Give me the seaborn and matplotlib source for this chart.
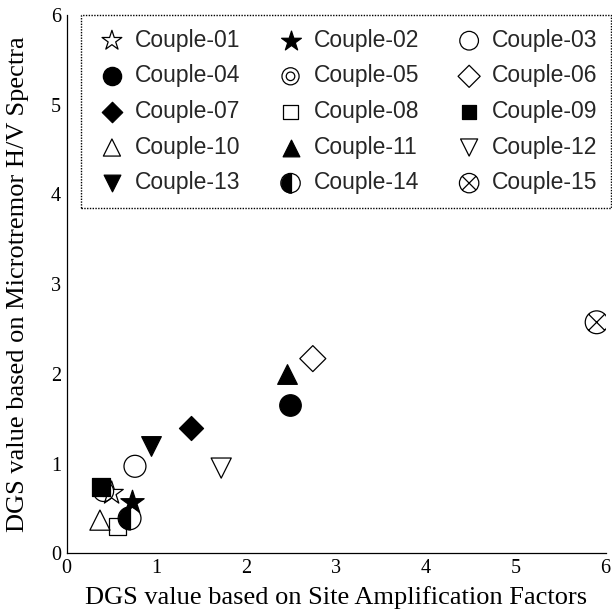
import matplotlib
matplotlib.use("Agg")
import matplotlib.pyplot as plt
import seaborn as sns
import numpy as np
from matplotlib.path import Path

# ---- data ----
couples = [f"Couple-{i:02d}" for i in range(1, 16)]
x_saf = [0.50, 0.73, 0.76, 2.49, 0.41, 2.74, 1.38, 0.57, 0.38, 0.37, 2.45, 1.72, 0.94, 0.70, 5.90]
y_hv = [0.67, 0.575, 0.97, 1.65, 0.69, 2.17, 1.40, 0.30, 0.74, 0.37, 2.00, 0.95, 1.20, 0.39, 2.575]
x_ticks = [0, 1, 2, 3, 4, 5, 6]
y_ticks = [0, 1, 2, 3, 4, 5, 6]
x_label = "DGS value based on Site Amplification Factors"
y_label = "DGS value based on Microtremor H/V Spectra"

# ---- custom marker paths ----
circ = Path.unit_circle()
inner = Path(circ.vertices * 0.5, circ.codes)
double_circle = Path.make_compound_path(circ, inner)
xv = 0.7071
circle_x = Path(np.vstack([circ.vertices, [[-xv, -xv], [xv, xv], [-xv, xv], [xv, -xv]]]),
                list(circ.codes) + [Path.MOVETO, Path.LINETO, Path.MOVETO, Path.LINETO])
arc = Path.arc(90, 270)
half_left = Path(np.vstack([arc.vertices, [[0, 1]]]), list(arc.codes) + [Path.CLOSEPOLY])

# style per couple: list of layers (marker, size, face)
styles = [
    [("*", 310, "none")],
    [("*", 310, "black")],
    [("o", 250, "none")],
    [("o", 240, "black")],
    [(double_circle, 210, "none")],
    [("D", 175, "none")],
    [("D", 150, "black")],
    [("s", 150, "none")],
    [("s", 150, "black")],
    [("^", 210, "none")],
    [("^", 200, "black")],
    [("v", 210, "none")],
    [("v", 200, "black")],
    [("o", 270, "none"), (half_left, 270, "black")],
    [(circle_x, 270, "none")],
]

sns.set_style("white")
plt.rcParams["font.family"] = ["Liberation Serif", "DejaVu Serif"]

fig = plt.figure(figsize=(6.12, 6.11), dpi=100)
ax = fig.add_axes([0.109, 0.0944, 0.8806, 0.8811])

handles = []
for i, name in enumerate(couples):
    layers = []
    for marker, s, face in styles[i]:
        sns.scatterplot(x=[x_saf[i]], y=[y_hv[i]], marker=marker, s=s, color="black",
                        facecolor=face, edgecolor="black", linewidth=0.9, ax=ax,
                        legend=False, zorder=3 + i)
        layers.append(ax.collections[-1])
    handles.append(tuple(layers) if len(layers) > 1 else layers[0])

ax.set_xlim(0, 6)
ax.set_ylim(0, 6)
ax.set_xticks(x_ticks)
ax.set_yticks(y_ticks)
ax.set_xticklabels([str(t) for t in x_ticks])
ax.set_yticklabels([str(t) for t in y_ticks])
ax.tick_params(direction="in", length=4, width=0.8, colors="black", labelsize=14.5)
ax.tick_params(axis="x", pad=4)
ax.tick_params(axis="y", pad=4)
for side in ["top", "right"]:
    ax.spines[side].set_visible(False)
for side in ["left", "bottom"]:
    ax.spines[side].set_color("black")
    ax.spines[side].set_linewidth(0.9)

ax.set_xlabel(x_label, fontsize=19, labelpad=6, color="black")
ax.set_ylabel(y_label, fontsize=19, labelpad=16, color="black")

# legend: row-major order in 3 columns
order = []
for c in range(3):
    order += [r * 3 + c for r in range(5)]
leg = ax.legend([handles[k] for k in order], [couples[k] for k in order], ncol=3,
                loc="upper left", bbox_to_anchor=(0.0265, 0.0, 0.984, 1.0), mode="expand",
                borderaxespad=0.0, frameon=True, fancybox=False, framealpha=1,
                prop={"family": "Liberation Sans", "size": 16.5},
                handletextpad=0.25, labelspacing=0.55, columnspacing=0.8,
                handlelength=1.5, borderpad=0.6, markerscale=0.85)
fr = leg.get_frame()
fr.set_edgecolor("black")
fr.set_linestyle((0, (1, 1)))
fr.set_linewidth(1.0)
leg.set_zorder(30)

fig.savefig("out.png", dpi=100)
